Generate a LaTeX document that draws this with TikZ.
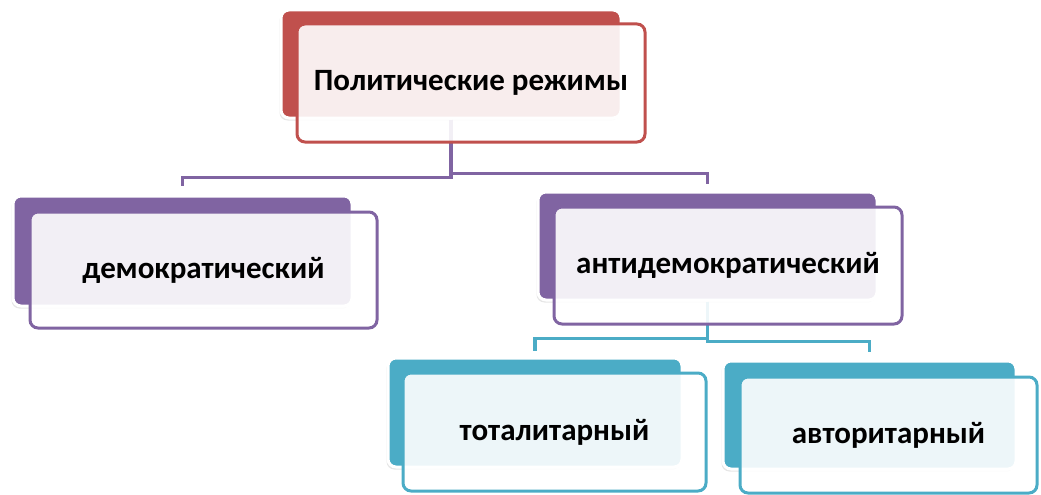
\documentclass[tikz,border=0pt]{standalone}
\usepackage{fontspec}
\setmainfont{Carlito}
\usetikzlibrary{shadows}
\definecolor{rezred}{HTML}{C0504D}
\definecolor{rezpurple}{HTML}{8064A2}
\definecolor{rezteal}{HTML}{4BACC6}
\begin{document}
\begin{tikzpicture}[x=1pt,y=-1pt,
        backbox/.style={rectangle,rounded corners=8pt,fill=#1,draw=white,line width=3pt,inner sep=0pt,
            drop shadow={shadow xshift=-1.5pt,shadow yshift=-2.5pt,opacity=0.2}},
        frontbox/.style={rectangle,rounded corners=8pt,draw=#1,line width=3pt,fill=white,fill opacity=0.9,
            text opacity=1,inner sep=0pt,font=\fontsize{31}{36}\selectfont\bfseries},
        link/.style={draw=#1,line width=3.3pt}]
        \useasboundingbox (0,0) rectangle (1041,495);
    %задние блоки;
        \node [backbox=rezred,minimum width=340,minimum height=108] (topb) at (451,64) {};
        \node [backbox=rezpurple,minimum width=339,minimum height=110] (demb) at (182.5,251) {};
        \node [backbox=rezpurple,minimum width=339,minimum height=108] (antib) at (707.5,246) {};
        \node [backbox=rezteal,minimum width=294,minimum height=109] (totb) at (535,412.5) {};
        \node [backbox=rezteal,minimum width=293,minimum height=108] (autb) at (869.5,415) {};
    %линии
        \draw [link=rezpurple,shorten >=9pt] (topb.south) -- ++(0,58) -| (demb.north);
        \draw [link=rezpurple,shorten >=7pt] (topb.south) -- ++(0,54) -| (antib.north);
        \draw [link=rezteal,shorten >=6pt] (antib.south) -- ++(0,37) -| (totb.north);
        \draw [link=rezteal,shorten >=8pt] (antib.south) -- ++(0,40) -| (autb.north);
    %передние блоки с текстом
        \node [frontbox=rezred,minimum width=348,minimum height=118] (top) at (471,83) {Политические режимы};
        \node [frontbox=rezpurple,minimum width=347,minimum height=116] (dem) at (203.5,270) {демократический};
        \node [frontbox=rezpurple,minimum width=348,minimum height=117] (anti) at (728,265.5) {антидемократический};
        \node [frontbox=rezteal,minimum width=303,minimum height=118] (tot) at (554.5,432) {тоталитарный};
        \node [frontbox=rezteal,minimum width=297,minimum height=116] (aut) at (888.5,435) {авторитарный};
\end{tikzpicture}
\end{document}
